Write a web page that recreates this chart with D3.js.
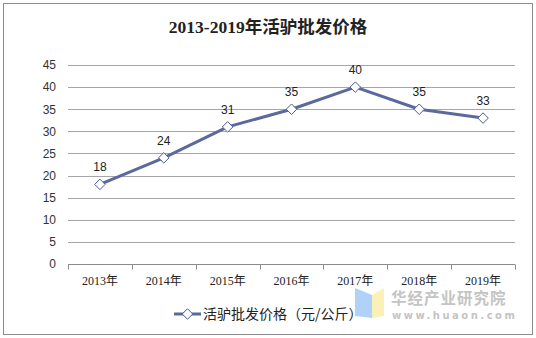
<!DOCTYPE html>
<html>
<head>
<meta charset="utf-8">
<script src="https://cdn.jsdelivr.net/npm/d3@7"></script>
<style>
  html, body { margin: 0; padding: 0; background: #fff; }
  svg { display: block; }
</style>
</head>
<body>
<svg id="chart" width="536" height="338"></svg>
<script>
// Wholesale price of live donkeys, 2013-2019 (yuan/kg)
const years = ["2013年", "2014年", "2015年", "2016年", "2017年", "2018年", "2019年"];
const prices = [18, 24, 31, 35, 40, 35, 33];
const yTicks = [0, 5, 10, 15, 20, 25, 30, 35, 40, 45];
const titleText = "2013-2019年活驴批发价格";
const seriesName = "活驴批发价格（元/公斤）";

const svg = d3.select("#chart");
const W = 536, H = 338;
const serif = "'Liberation Serif', 'DejaVu Serif', 'Noto Sans CJK SC', serif";
const sans = "'Liberation Sans', Arial, 'Noto Sans CJK SC', sans-serif";
const lineColor = "#5A6A9C";

// outer frame
svg.append("rect")
  .attr("x", 3.5).attr("y", 3.5).attr("width", W - 7).attr("height", H - 7)
  .attr("fill", "#fff").attr("stroke", "#8c8c8c").attr("stroke-width", 1);

// title
svg.append("text")
  .attr("x", 268).attr("y", 33)
  .attr("text-anchor", "middle")
  .attr("font-family", serif)
  .attr("font-weight", "bold")
  .attr("font-size", 17.5)
  .attr("fill", "#222")
  .text(titleText);

const plot = { left: 68, right: 515, top: 65, bottom: 264 };

const x = d3.scaleBand().domain(years).range([plot.left, plot.right]);
const y = d3.scaleLinear().domain([0, 45]).range([plot.bottom, plot.top]);

// horizontal gridlines
svg.append("g")
  .selectAll("line")
  .data(yTicks.filter(d => d > 0))
  .join("line")
  .attr("x1", plot.left).attr("x2", plot.right)
  .attr("y1", d => Math.round(y(d)) + 0.5).attr("y2", d => Math.round(y(d)) + 0.5)
  .attr("stroke", "#a6a6a6").attr("stroke-width", 1);

// y axis labels
const yAxis = d3.axisLeft(y).tickValues(yTicks).tickSize(0).tickPadding(12);
svg.append("g")
  .attr("transform", `translate(${plot.left},0)`)
  .call(yAxis)
  .call(g => g.select(".domain").remove())
  .call(g => g.selectAll("text")
    .attr("font-family", sans).attr("font-size", 12).attr("fill", "#333"));

// x axis with category boundary ticks
const xAxisG = svg.append("g")
  .attr("transform", `translate(0,${Math.round(y(0)) + 0.5})`);
xAxisG.append("line")
  .attr("x1", plot.left).attr("x2", plot.right)
  .attr("stroke", "#8c8c8c");
const boundaries = years.map(d => x(d)).concat([x(years[years.length - 1]) + x.bandwidth()]);
xAxisG.selectAll("line.tick")
  .data(boundaries)
  .join("line")
  .attr("class", "tick")
  .attr("x1", d => Math.round(d) + 0.5).attr("x2", d => Math.round(d) + 0.5)
  .attr("y1", 0).attr("y2", 5)
  .attr("stroke", "#8c8c8c");
xAxisG.selectAll("text")
  .data(years)
  .join("text")
  .attr("x", d => x(d) + x.bandwidth() / 2)
  .attr("y", 20)
  .attr("text-anchor", "middle")
  .attr("font-family", serif)
  .attr("font-size", 12)
  .attr("fill", "#222")
  .text(d => d);

// series line
const cx = d => x(d) + x.bandwidth() / 2;
const line = d3.line()
  .x((d, i) => cx(years[i]))
  .y(d => y(d));
svg.append("path")
  .datum(prices)
  .attr("d", line)
  .attr("fill", "none")
  .attr("stroke", lineColor)
  .attr("stroke-width", 3)
  .attr("stroke-linejoin", "round");

// diamond markers
const diamond = d3.symbol().type(d3.symbolDiamond2).size(70);
svg.append("g")
  .selectAll("path")
  .data(prices)
  .join("path")
  .attr("transform", (d, i) => `translate(${cx(years[i])},${y(d)})`)
  .attr("d", diamond)
  .attr("fill", "#fff")
  .attr("stroke", "#4a5a9a")
  .attr("stroke-width", 1);

// value labels
svg.append("g")
  .selectAll("text")
  .data(prices)
  .join("text")
  .attr("x", (d, i) => cx(years[i]))
  .attr("y", d => y(d) - 13)
  .attr("text-anchor", "middle")
  .attr("font-family", sans)
  .attr("font-size", 12)
  .attr("fill", "#222")
  .text(d => d);

// legend
const lg = svg.append("g").attr("transform", "translate(174,314)");
lg.append("line").attr("x1", 0).attr("x2", 27).attr("y1", 0).attr("y2", 0)
  .attr("stroke", lineColor).attr("stroke-width", 3);
lg.append("path").attr("transform", "translate(13.5,0)").attr("d", diamond)
  .attr("fill", "#fff").attr("stroke", "#4a5a9a");
lg.append("text").attr("x", 29).attr("y", 5)
  .attr("font-family", "'Noto Sans CJK SC', sans-serif")
  .attr("font-size", 14).attr("fill", "#222")
  .text(seriesName);

// publisher mark
const wm = svg.append("g");
wm.append("path").attr("d", "M355,288 L372,295 L372,318 L355,316 Z").attr("fill", "#a9cdf7").attr("opacity", 0.9);
wm.append("path").attr("d", "M372,295 L384,288 L384,316 L372,318 Z").attr("fill", "#fbeeb0").attr("opacity", 0.9);
wm.append("text").attr("x", 391).attr("y", 304)
  .attr("font-family", "'Noto Sans CJK SC', sans-serif").attr("font-weight", "bold")
  .attr("font-size", 15.5).attr("fill", "#c4c4c4").attr("letter-spacing", 1)
  .text("华经产业研究院");
wm.append("text").attr("x", 392).attr("y", 319)
  .attr("font-family", "'DejaVu Sans', sans-serif").attr("font-weight", "bold")
  .attr("font-size", 10).attr("fill", "#c4c4c4").attr("letter-spacing", 2.5)
  .text("www.huaon.com");
</script>
</body>
</html>
